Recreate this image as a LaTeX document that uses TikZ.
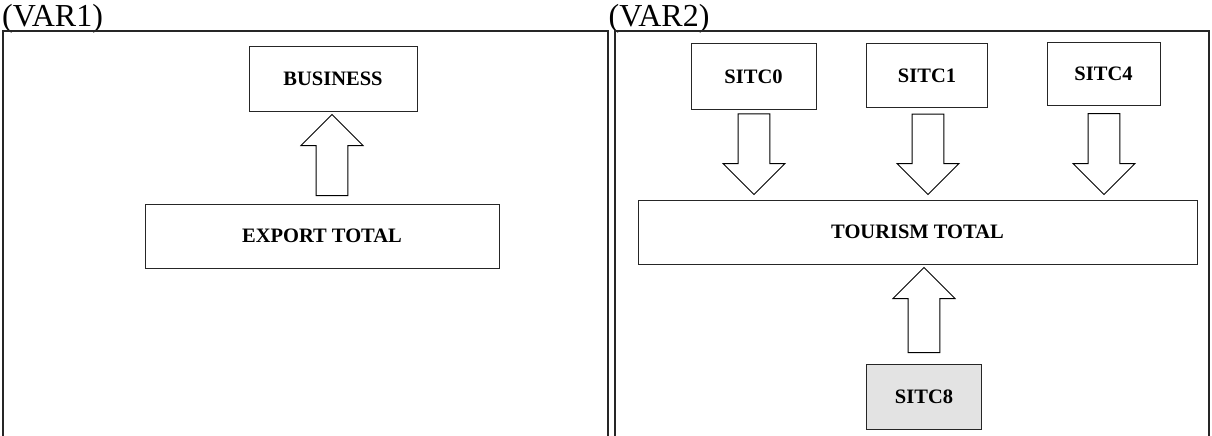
\documentclass[tikz,border=0pt]{standalone}
\usepackage{fontspec}
\setmainfont{Liberation Serif}
\usetikzlibrary{calc}

% hollow block arrow from tail #1 to tip #2 (vertical)
\newcommand{\hollowarrow}[2]{%
  \draw[hollow] let \p1=(#1), \p2=(#2), \p3=($(#2)!31pt!(#1)$) in
    (\p2) -- (\x2-31pt,\y3) -- (\x2-15.8pt,\y3) -- (\x2-15.8pt,\y1)
    -- (\x2+15.8pt,\y1) -- (\x2+15.8pt,\y3) -- (\x2+31pt,\y3) -- cycle;}

\begin{document}
\begin{tikzpicture}[x=1pt,y=-1pt,
    box/.style={draw=black!85,line width=1pt,inner sep=0pt,
      font=\fontsize{20.5}{24}\selectfont\bfseries},
    hollow/.style={draw=black,line width=1pt,line join=miter,fill=white},
    panel/.style={draw=black!85,line width=1.3pt},
    varlabel/.style={inner sep=0pt,anchor=base west,
      font=\fontsize{32}{38}\selectfont}]
    \useasboundingbox (0,0) rectangle (1212,436);

    % left panel
    \node[varlabel] (var1) at (2,26.5) {(VAR1)};
    \draw[panel] (3,436) -- (3,31) -- (608,31) -- (608,436);
    \node[box,minimum width=168,minimum height=64] (business) at (333,79) {BUSINESS};
    \node[box,minimum width=354,minimum height=64] (export) at (322,236) {EXPORT TOTAL};
    \coordinate (tA) at ($(export.north)+(10,-8)$);
    \coordinate (hA) at ($(business.south)+(-1,3)$);
    \hollowarrow{tA}{hA}

    % right panel
    \node[varlabel] (var2) at (608.5,26.5) {(VAR2)};
    \draw[panel] (615,436) -- (615,31) -- (1209,31) -- (1209,436);
    \node[box,minimum width=125,minimum height=66] (sitc0) at (753.5,76.3) {SITC0};
    \node[box,minimum width=121,minimum height=64] (sitc1) at (927,75.5) {SITC1};
    \node[box,minimum width=113,minimum height=63] (sitc4) at (1103.5,73.7) {SITC4};
    \node[box,minimum width=559,minimum height=64] (tourism) at (917.5,232) {TOURISM TOTAL};
    \node[box,fill=black!11,minimum width=115,minimum height=65] (sitc8) at (924,396.7) {SITC8};

    \coordinate (t0) at ($(sitc0.south)+(0.5,4)$);
    \coordinate (h0) at ($(sitc0.south |- tourism.north)+(0.5,-5)$);
    \coordinate (t1) at ($(sitc1.south)+(1,6)$);
    \coordinate (h1) at ($(sitc1.south |- tourism.north)+(1,-5)$);
    \coordinate (t4) at ($(sitc4.south)+(0.5,8)$);
    \coordinate (h4) at ($(sitc4.south |- tourism.north)+(0.5,-5)$);
    \coordinate (t8) at ($(sitc8.north)+(0,-11)$);
    \coordinate (h8) at ($(sitc8.north |- tourism.south)+(0,3)$);
    \hollowarrow{t0}{h0}
    \hollowarrow{t1}{h1}
    \hollowarrow{t4}{h4}
    \hollowarrow{t8}{h8}
\end{tikzpicture}
\end{document}
